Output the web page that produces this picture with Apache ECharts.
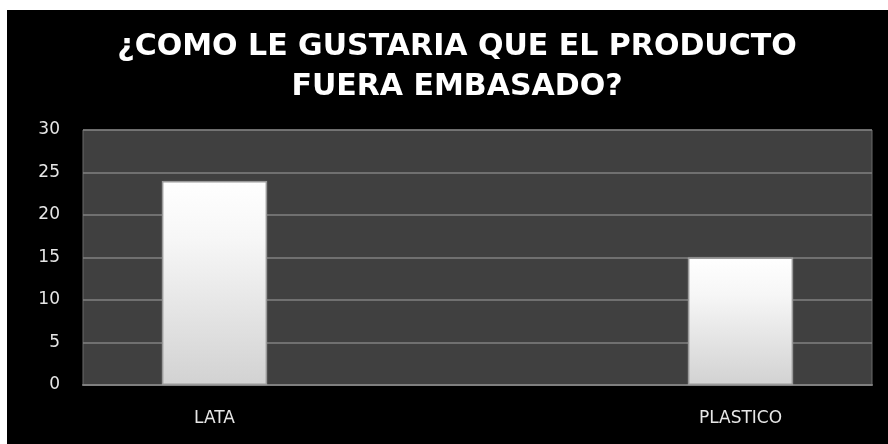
<!DOCTYPE html>
<html>
<head>
<meta charset="utf-8">
<script src="https://cdn.jsdelivr.net/npm/echarts@6/dist/echarts.min.js"></script>
<style>
  html, body { margin: 0; padding: 0; background: #ffffff; width: 888px; height: 444px; overflow: hidden; }
  #chart { position: absolute; left: 7px; top: 10px; width: 881px; height: 434px; background: #000000; }
</style>
</head>
<body>
<div id="chart"></div>
<script>
const titleLines = ['¿COMO LE GUSTARIA QUE EL PRODUCTO', 'FUERA EMBASADO?'];
const categories = ['LATA', '', 'PLASTICO'];
const values = [24, null, 15];
const yTicks = { min: 0, max: 30, interval: 5 };

const chart = echarts.init(document.getElementById('chart'), null, { renderer: 'canvas' });
chart.setOption({
  backgroundColor: '#000000',
  animation: false,
  title: {
    text: titleLines.join('\n'),
    left: 445,
    textAlign: 'center',
    top: 12,
    textStyle: {
      color: '#ffffff',
      fontFamily: 'DejaVu Sans',
      fontWeight: 'bold',
      fontSize: 30,
      lineHeight: 40
    }
  },
  grid: {
    left: 76, right: 16, top: 120, bottom: 59,
    show: true,
    backgroundColor: '#404040',
    borderColor: '#6a6a6a',
    borderWidth: 1
  },
  xAxis: {
    type: 'category',
    data: categories,
    axisLine: { show: true, lineStyle: { color: '#7f7f7f', width: 2 } },
    axisTick: { show: false },
    axisLabel: { color: '#e6e6e6', fontFamily: 'DejaVu Sans', fontSize: 17, margin: 25, interval: 0 },
    splitLine: { show: false }
  },
  yAxis: {
    type: 'value',
    min: yTicks.min, max: yTicks.max, interval: yTicks.interval,
    axisLine: { show: false },
    axisTick: { show: false },
    axisLabel: { color: '#e6e6e6', fontFamily: 'DejaVu Sans', fontSize: 17, margin: 23 },
    splitLine: { show: true, lineStyle: { color: '#808080', width: 1.5 } }
  },
  series: [{
    type: 'bar',
    data: values,
    barWidth: '40%',
    itemStyle: {
      color: new echarts.graphic.LinearGradient(0, 0, 0, 1, [
        { offset: 0, color: '#ffffff' },
        { offset: 0.3, color: '#f6f6f6' },
        { offset: 1, color: '#d2d2d2' }
      ]),
      borderColor: '#9a9a9a',
      borderWidth: 1.5,
      shadowColor: 'rgba(255,255,255,0.15)',
      shadowBlur: 2
    }
  }]
});
</script>
</body>
</html>
